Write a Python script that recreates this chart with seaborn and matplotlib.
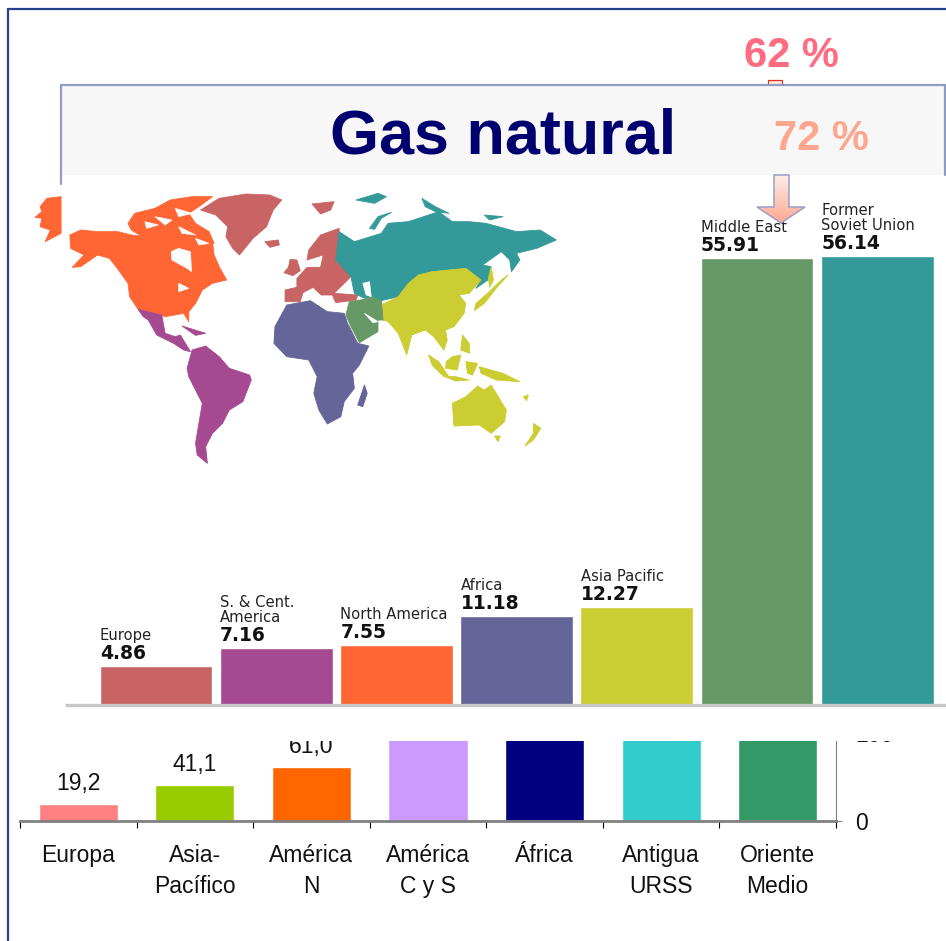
import numpy as np
import pandas as pd
import matplotlib
matplotlib.use("Agg")
import matplotlib.pyplot as plt
from matplotlib.patches import Polygon, Rectangle
import seaborn as sns

# ---- data
upper_regions = ["Europe", "S. & Cent.\nAmerica", "North America", "Africa", "Asia Pacific", "Middle East", "Former\nSoviet Union"]
upper_values = [4.86, 7.16, 7.55, 11.18, 12.27, 55.91, 56.14]
upper_colors = ["#C86464", "#A54A91", "#FF6633", "#65659A", "#CCCC33", "#669966", "#339999"]

lower_regions = ["Europa", "Asia-\nPacífico", "América\nN", "América\nC y S", "África", "Antigua\nURSS", "Oriente\nMedio"]
lower_values = [19.2, 41.1, 61.0, 105.0, 108.0, 112.0, 116.0]   # the last four are hidden behind the map panel
lower_colors = ["#FF8080", "#99CC00", "#FF6600", "#CC99FF", "#000080", "#33CCCC", "#339966"]
lower_ticks = [0, 100]

title_text = "Gas natural"
callout_top = "62 %"
callout_mid = "72 %"

# ---- decorative world map outlines
map_north_america = [(118,165),(150,150),(200,155),(260,155),(300,165),(340,170),(380,165),(440,172),(500,165),(540,185),(545,225),(560,260),(582,300),(540,310),(510,330),(490,370),(470,395),(470,425),(455,400),(400,410),(375,400),(345,395),(320,388),(295,350),(290,310),(262,270),(235,235),(200,225),(150,260),(125,262),(160,225),(120,205)]
map_arctic = [(290,130),(310,100),(370,85),(415,60),(480,50),(540,50),(500,80),(470,100),(490,130),(530,155),(545,190),(500,190),(450,180),(380,170),(340,175),(300,150)]
map_alaska = [(50,55),(92,50),(92,160),(45,185),(60,150),(30,140),(35,115),(15,112),(35,95),(30,80)]
map_greenland = [(505,90),(560,55),(640,42),(710,45),(745,60),(720,90),(700,140),(660,175),(620,225),(600,205),(580,170),(585,140),(550,105)]
map_iceland = [(695,185),(735,180),(738,195),(710,202)]
map_svalbard = [(835,72),(900,65),(890,90),(860,102)]
map_britain = [(770,238),(790,240),(800,272),(778,287),(752,278),(765,262)]
map_europe = [(915,145),(915,240),(950,290),(925,315),(900,340),(970,345),(965,360),(905,368),(895,345),(862,345),(838,322),(808,338),(800,365),(755,365),(755,330),(790,322),(790,295),(820,262),(860,262),(868,225),(845,232),(820,240),(825,210),(860,165)]
map_russia = [(915,155),(960,185),(1040,160),(1060,130),(1120,125),(1210,95),(1250,125),(1300,125),(1350,130),(1440,155),(1510,150),(1558,180),(1500,205),(1440,220),(1450,240),(1425,275),(1420,240),(1395,215),(1340,255),(1365,260),(1355,300),(1320,325),(1335,300),(1290,265),(1190,275),(1150,285),(1120,310),(1090,350),(1040,362),(1010,350),(990,355),(960,340),(950,290),(905,240)]
map_novaya = [(1005,145),(1030,110),(1070,97),(1040,115),(1020,148)]
map_franz = [(965,60),(1030,40),(1055,50),(1020,70)]
map_sev = [(1160,55),(1200,80),(1240,100),(1200,95),(1170,80)]
map_sib = [(1345,105),(1400,110),(1360,120)]
map_asia = [(1040,375),(1090,350),(1120,310),(1150,285),(1190,275),(1290,265),(1335,300),(1300,340),(1270,345),(1290,370),(1285,400),(1255,440),(1230,450),(1235,480),(1225,510),(1195,470),(1170,450),(1130,465),(1115,525),(1090,460),(1060,425),(1045,420)]
map_sakhalin = [(1365,260),(1372,300),(1360,322),(1357,295)]
map_japan = [(1415,285),(1380,325),(1345,370),(1315,392),(1320,370),(1360,335),(1395,300)]
map_sumatra = [(1180,525),(1210,545),(1240,590),(1225,590),(1190,555)]
map_java = [(1228,590),(1260,590),(1300,600),(1260,603)]
map_phil = [(1280,465),(1300,490),(1302,520),(1275,510)]
map_borneo = [(1250,530),(1275,525),(1265,570),(1230,565),(1232,545)]
map_sulawesi = [(1290,545),(1325,550),(1310,585),(1295,580)]
map_guinea = [(1330,560),(1400,580),(1450,605),(1380,600),(1335,580)]
map_melanesia = [(1460,650),(1475,645),(1470,662)]
map_australia = [(1250,670),(1290,650),(1325,618),(1345,630),(1365,615),(1410,690),(1405,725),(1365,760),(1330,735),(1255,738)]
map_nz = [(1490,730),(1512,745),(1490,780),(1465,798),(1490,760)]
map_tas = [(1375,768),(1392,768),(1385,785)]
map_mideast = [(945,365),(990,358),(1010,350),(1040,362),(1045,420),(1030,420),(1030,455),(975,488),(950,440),(935,405)]
map_africa = [(760,375),(830,362),(880,395),(930,400),(940,430),(970,490),(1003,498),(975,555),(955,580),(960,625),(930,665),(920,710),(880,732),(855,690),(840,640),(850,590),(825,540),(760,530),(722,490),(725,440)]
map_madagascar = [(990,615),(998,640),(985,680),(970,675)]
map_central = [(320,388),(390,405),(400,460),(430,470),(445,465),(475,515),(455,510),(425,490),(375,465),(350,420),(335,410)]
map_cuba = [(450,438),(520,460),(490,466)]
map_south = [(480,510),(520,498),(560,530),(590,565),(650,585),(655,600),(630,665),(590,690),(570,730),(540,760),(520,800),(525,850),(495,825),(490,790),(500,730),(510,670),(470,590),(465,565)]
map_holes = [[(985,310),(1005,305),(1010,350),(995,345)], [(990,400),(1030,425),(1015,428)],
             [(418,215),(440,205),(475,215),(478,275),(465,265),(420,240)],
             [(440,310),(470,325),(440,335)], [(370,110),(420,120),(400,135)], [(430,85),(480,100),(440,110)],
             [(440,140),(490,165),(450,160)], [(340,125),(380,135),(345,145)], [(490,175),(530,190),(500,195)]]
map_parts = [(map_north_america, 2), (map_arctic, 2), (map_alaska, 2), (map_greenland, 0), (map_iceland, 0), (map_svalbard, 0),
             (map_britain, 0), (map_europe, 0), (map_russia, 6), (map_novaya, 6), (map_franz, 6), (map_sev, 6), (map_sib, 6),
             (map_asia, 4), (map_sakhalin, 4), (map_japan, 4), (map_sumatra, 4), (map_java, 4), (map_phil, 4), (map_borneo, 4),
             (map_sulawesi, 4), (map_guinea, 4), (map_melanesia, 4), (map_australia, 4), (map_nz, 4), (map_tas, 4),
             (map_mideast, 5), (map_africa, 3), (map_madagascar, 3), (map_central, 1), (map_cuba, 1), (map_south, 1)]

W, H = 946, 941
sns.set_theme(style="white")
plt.rcParams['font.family'] = ['Liberation Sans', 'DejaVu Sans']
fig = plt.figure(figsize=(W/100, H/100), dpi=100, facecolor="white")


def rect(l, t, r, b):
    return [l/W, 1-b/H, (r-l)/W, (b-t)/H]


# ---- lower chart (partly hidden by the map panel, as in the slide)
ax2 = fig.add_axes(rect(20, 716, 836, 820.5), zorder=1)
df2 = pd.DataFrame({"region": lower_regions, "value": lower_values})
sns.barplot(data=df2, x="region", y="value", hue="region", palette=lower_colors, dodge=False, legend=False,
            saturation=1, width=0.68, ax=ax2)
ax2.set_xlim(-0.5, 6.5)
ax2.set_ylim(0, 104.4/0.87)
ax2.set_xlabel(""); ax2.set_ylabel("")
for s in ["top", "left"]:
    ax2.spines[s].set_visible(False)
ax2.spines["bottom"].set_color("#808080"); ax2.spines["bottom"].set_linewidth(2)
ax2.spines["right"].set_color("#808080"); ax2.spines["right"].set_linewidth(0.8)
for c, v in zip(ax2.containers, lower_values):
    ax2.bar_label(c, labels=[f"{v:.1f}".replace(".", ",")], padding=6.5, fontsize=16.5, color="#111111", clip_on=False)
ax2.set_xticks(np.arange(-0.5, 7), minor=True)
ax2.tick_params(axis="x", which="minor", length=5, width=0.8, color="black", bottom=True)
ax2.tick_params(axis="x", which="major", length=0, pad=17, labelsize=16.5, labelcolor="#111111")
for t in ax2.get_xticklabels():
    t.set_linespacing(1.42)
ax2.yaxis.tick_right()
ax2.set_yticks(lower_ticks)
ax2.tick_params(axis="y", length=4.5, width=0.8, color="#808080", pad=9, labelsize=16.5, labelcolor="#111111", right=True)

# ---- upper chart on its white panel
ax1 = fig.add_axes(rect(61, 175, 946, 741), zorder=2, facecolor="white")
df1 = pd.DataFrame({"region": upper_regions, "value": upper_values})
sns.barplot(data=df1, x="region", y="value", hue="region", palette=upper_colors, dodge=False, legend=False,
            saturation=1, width=0.94, ax=ax1)
ax1.set_xlim((61-156)/120.2, (946-156)/120.2)
ax1.set_ylim(-36/8.0, 530/8.0)
ax1.set_xlabel(""); ax1.set_ylabel("")
ax1.set_xticks([]); ax1.set_yticks([])
for s in ax1.spines.values():
    s.set_visible(False)
ax1.plot([(65-156)/120.2, (946-156)/120.2], [0, 0], color="#C8C8C8", lw=2.4, zorder=1, solid_capstyle="butt")
for i, (name, val) in enumerate(zip(upper_regions, upper_values)):
    ax1.annotate(f"{val:.2f}", (i-0.466, val), xytext=(0, 3), textcoords="offset pixels", ha="left", va="bottom",
                 fontsize=13.5, fontweight="bold", family="DejaVu Sans", color="#111111")
    ax1.annotate(name, (i-0.466, val), xytext=(0, 23), textcoords="offset pixels", ha="left", va="bottom",
                 fontsize=10.6, family="DejaVu Sans", color="#222222", linespacing=0.95)

# ---- overlay in picture pixels: frame, title box, callouts, map
ov = fig.add_axes([0, 0, 1, 1], zorder=3)
ov.patch.set_alpha(0)
ov.axis("off")
frame = "#26408B"
ov.plot([8, 8], [941, 9], color=frame, lw=1.6)
ov.plot([8, 946], [9, 9], color=frame, lw=1.6)

ov.add_patch(Rectangle((768, 80), 14, 8, fc="#FFE8E0", ec="#E03020", lw=0.9))
ov.add_patch(Rectangle((61, 85), 890, 90, fc="#F7F7F7", ec="none"))
box = "#8E9CC4"
ov.plot([61, 61], [184, 85], color=box, lw=1.6)
ov.plot([61, 946], [85, 85], color=box, lw=1.6)
ov.plot([945, 945], [85, 175], color=box, lw=1.6)

ov.text(503, 137, title_text, color="#00006E", fontsize=45.4, fontweight="bold", ha="center", va="center")
ov.text(791, 56, callout_top, color="#FF6B80", fontsize=30, fontweight="bold", ha="center", va="center")
ov.text(821, 139, callout_mid, color="#FFA78E", fontsize=30, fontweight="bold", ha="center", va="center")

# map
for pts, idx in map_parts:
    xy = [(30+x/2.96, 180+y/3) for x, y in pts]
    ov.add_patch(Polygon(xy, closed=True, fc=upper_colors[idx], ec=upper_colors[idx], lw=0.6, joinstyle="round"))
for pts in map_holes:
    xy = [(30+x/2.96, 180+y/3) for x, y in pts]
    ov.add_patch(Polygon(xy, closed=True, fc="white", ec="white", lw=0.5))

# arrow with a vertical gradient
arrow_xy = [(774, 175), (789, 175), (789, 207), (805, 207), (781, 223), (757, 207), (774, 207)]
grad = np.linspace(0, 1, 64).reshape(-1, 1)
cmap = matplotlib.colors.LinearSegmentedColormap.from_list("a", ["#FFEDE8", "#FFA88F"])
im = ov.imshow(grad, cmap=cmap, extent=(757, 805, 223, 175), aspect="auto", zorder=3)
arrow = Polygon(arrow_xy, closed=True, fc="none", ec="#9AA0C8", lw=1.1, zorder=4)
ov.add_patch(arrow)
im.set_clip_path(arrow)

ov.set_xlim(0, W)
ov.set_ylim(H, 0)

fig.savefig("out.png", dpi=100)
